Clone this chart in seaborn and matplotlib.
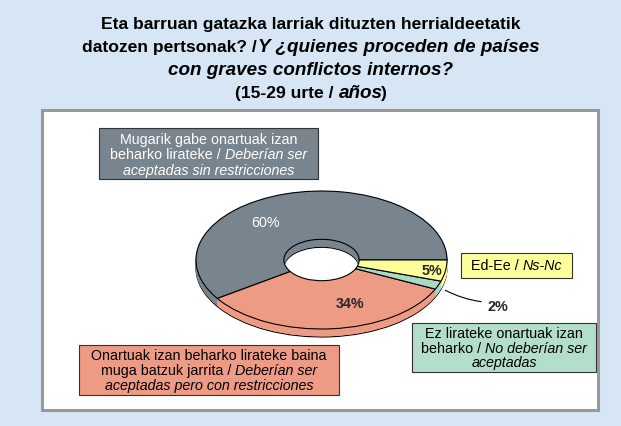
import matplotlib
matplotlib.use("Agg")
import matplotlib.pyplot as plt
import matplotlib.transforms as mtransforms
from matplotlib.patches import Rectangle, FancyArrowPatch
from matplotlib.font_manager import FontProperties
import seaborn as sns

# data
categories = [
    "Mugarik gabe onartuak izan beharko lirateke / Deberían ser aceptadas sin restricciones",
    "Onartuak izan beharko lirateke baina muga batzuk jarrita / Deberían ser aceptadas pero con restricciones",
    "Ez lirateke onartuak izan beharko / No deberían ser aceptadas",
    "Ed-Ee / Ns-Nc",
]
values = [60, 34, 2, 5]
slice_colors = ["#78858F", "#EE9B85", "#A9D9C2", "#FFFF99"]
box_colors = ["#78858F", "#EE9B85", "#B3DEC9", "#FFFF99"]

sns.set_theme(style="white")
plt.rcParams["font.family"] = ["Liberation Sans", "DejaVu Sans"]
SANS = ["Liberation Sans", "DejaVu Sans"]

W, H = 621, 427
fig = plt.figure(figsize=(W / 100, H / 100), dpi=100)
fig.patch.set_facecolor("#D6E6F4")
ident = mtransforms.IdentityTransform()
renderer = fig.canvas.get_renderer()


def px_rect(x0, y0, x1, y1, **kw):
    r = Rectangle((x0, H - y1), x1 - x0, y1 - y0, transform=ident, **kw)
    fig.add_artist(r)
    return r


def text_w(s, size, bold, italic):
    fp = FontProperties(family=SANS, size=size,
                        weight="bold" if bold else "normal",
                        style="italic" if italic else "normal")
    return renderer.get_text_width_height_descent(s, fp, ismath=False)[0]


def rich_line(pieces, cx, y, size, color="black", bold=False, it_size=None):
    it_size = it_size or size
    items = []
    for i, (s, it) in enumerate(pieces):
        st = s.strip()
        sz = it_size if it else size
        w = text_w(st, sz, bold, it)
        gap = 0
        if i < len(pieces) - 1:
            if s.endswith(" ") or pieces[i + 1][0].startswith(" "):
                gap = 0.278 * size * 100 / 72 + 0.5
            elif it and not pieces[i + 1][1]:
                gap = -1.5
            else:
                gap = 1.0
        items.append((st, it, w, gap, sz))
    total = sum(w + g for _, _, w, g, _ in items)
    x = cx - total / 2
    for st, it, w, gap, sz in items:
        fig.text(x, H - y, st, transform=ident, fontsize=sz, color=color,
                 fontweight="bold" if bold else "normal",
                 fontstyle="italic" if it else "normal",
                 ha="left", va="baseline", zorder=5)
        x += w + gap


# title
tsize, tisize = 12.6, 13.6
rich_line([("Eta barruan gatazka larriak dituzten herrialdeetatik", False)], 311, 29, tsize, bold=True, it_size=tisize)
rich_line([("datozen pertsonak? /", False), ("Y ¿quienes proceden de países", True)], 311, 52, tsize, bold=True, it_size=tisize)
rich_line([("con graves conflictos internos?", True)], 311, 75, tsize, bold=True, it_size=tisize)
rich_line([("(15-29 urte /", False), (" años", True), (")", False)], 311, 98, tsize, bold=True, it_size=tisize)

# white panel
px_rect(42, 111, 598, 411, facecolor="white", edgecolor="#999999", linewidth=2.2, zorder=-1)

# 3D-looking donut: stacked pies on a squashed axes
ax = fig.add_axes([196 / W, (H - 338) / H, 251 / W, 146 / H])
ax.set_zorder(1)
depth = 8 / 69
nl = 9
for k in range(nl):
    cy = -depth + depth * k / (nl - 1)
    edge = k == 0 or k == nl - 1
    wedges, _ = ax.pie(values, colors=slice_colors, startangle=0, counterclock=True,
                       center=(0, cy), radius=1,
                       wedgeprops=dict(width=0.7, linewidth=0.8 if edge else 0.6,
                                       edgecolor="black" if edge else None))
    if not edge:
        for wdg, c in zip(wedges, slice_colors):
            wdg.set_edgecolor(c)
ax.set_aspect("auto")
ax.set_xlim(-1, 1)
ax.set_ylim(-1 - depth, 1)
ax.axis("off")

# percent labels
lsize = 10.3
fig.text(265, H - 223, f"{values[0]}%", transform=ident, fontsize=lsize, color="white", ha="center", va="center", zorder=5)
fig.text(350, H - 304, f"{values[1]}%", transform=ident, fontsize=lsize, fontweight="bold", ha="center", va="center", zorder=5)
fig.text(432, H - 271, f"{values[3]}%", transform=ident, fontsize=lsize, fontweight="bold", ha="center", va="center", zorder=5)
fig.text(498, H - 307, f"{values[2]}%", transform=ident, fontsize=lsize, fontweight="bold", ha="center", va="center", zorder=5)
fig.add_artist(FancyArrowPatch((443, H - 290), (484, H - 303), transform=ident,
                               arrowstyle="-", connectionstyle="arc3,rad=0.1",
                               color="black", linewidth=0.8, zorder=5))

# category boxes
bsize = 10.3
kw = dict(edgecolor="#333333", linewidth=0.8, zorder=3)
px_rect(99, 129, 318, 180, facecolor=box_colors[0], **kw)
rich_line([("Mugarik gabe onartuak izan", False)], 208.5, 144, bsize, color="white")
rich_line([("beharko lirateke /", False), (" Deberían ser", True)], 208.5, 159.5, bsize, color="white")
rich_line([("aceptadas sin restricciones", True)], 208.5, 175, bsize, color="white")

px_rect(79, 346, 339, 396, facecolor=box_colors[1], **kw)
rich_line([("Onartuak izan beharko lirateke baina", False)], 209, 360, bsize)
rich_line([("muga batzuk jarrita /", False), (" Deberían ser", True)], 209, 375, bsize)
rich_line([("aceptadas pero con restricciones", True)], 209, 390, bsize)

px_rect(412, 324, 596, 373, facecolor=box_colors[2], **kw)
rich_line([("Ez lirateke onartuak izan", False)], 504, 338, bsize)
rich_line([("beharko /", False), (" No deberían ser", True)], 504, 353, bsize)
rich_line([("aceptadas", True)], 504, 367, bsize)

px_rect(461, 254, 572, 279, facecolor=box_colors[3], **kw)
rich_line([("Ed-Ee /", False), (" Ns-Nc", True)], 516.5, 270, bsize)

fig.savefig("out.png", dpi=100, facecolor=fig.get_facecolor())
